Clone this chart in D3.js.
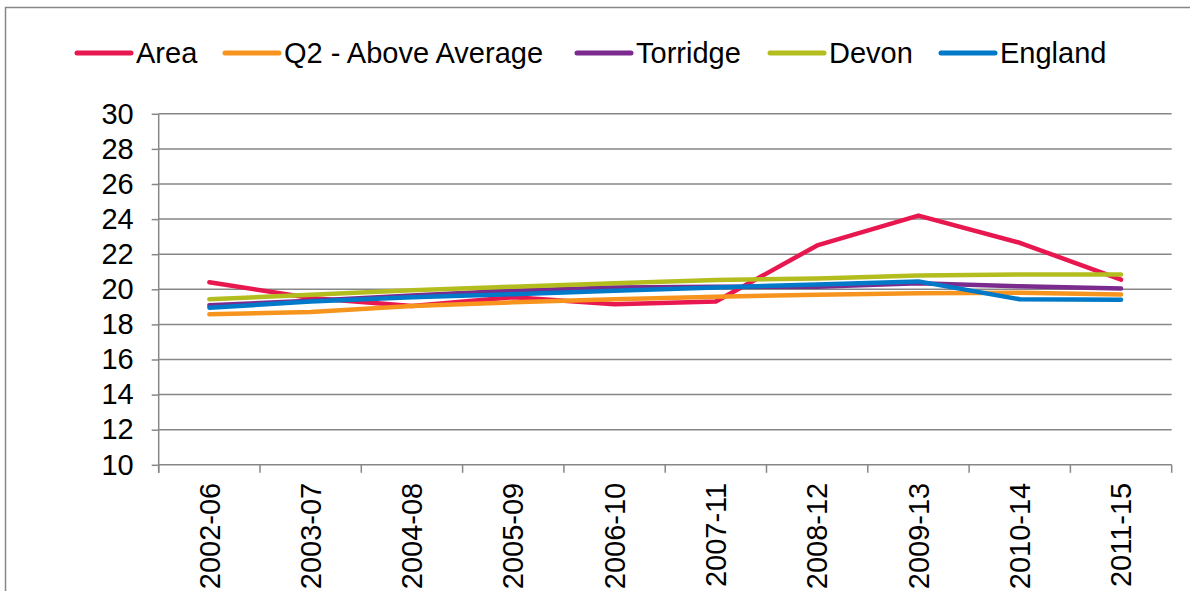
<!DOCTYPE html>
<html><head><meta charset="utf-8">
<script src="https://cdn.jsdelivr.net/npm/d3@7"></script>
<style>body{margin:0;background:#fff}svg{display:block}text{font-family:"Liberation Sans",Arial,sans-serif;fill:#000}</style>
</head><body><svg id="c" width="1190" height="591"></svg>
<script>
const categories = ["2002-06","2003-07","2004-08","2005-09","2006-10","2007-11","2008-12","2009-13","2010-14","2011-15"];
const seriesNames = ["Area","Q2 - Above Average","Torridge","Devon","England"];
const seriesColors = ["#E8174F","#F7941D","#7B2A8E","#B3BE1E","#0079C8"];
const area     = [20.4, 19.5, 19.05, 19.55, 19.15, 19.3, 22.5, 24.2, 22.65, 20.55];
const q2       = [18.58, 18.7, 19.05, 19.26, 19.43, 19.58, 19.69, 19.78, 19.8, 19.7];
const torridge = [19.09, 19.35, 19.65, 19.92, 20.1, 20.15, 20.15, 20.34, 20.17, 20.05];
const devon    = [19.43, 19.69, 19.94, 20.15, 20.34, 20.53, 20.62, 20.78, 20.85, 20.85];
const england  = [18.95, 19.3, 19.55, 19.72, 19.92, 20.1, 20.28, 20.45, 19.43, 19.4];
const yTicks   = [10,12,14,16,18,20,22,24,26,28,30];
const seriesValues = [area, q2, torridge, devon, england];

const svg = d3.select("#c");
const pLeft = 158.7, pRight = 1171.7, pTop = 113.8, pBottom = 464.8;
const grey = "#878787";

svg.append("rect").attr("x",5.5).attr("y",7.5).attr("width",1200).attr("height",620)
  .attr("fill","none").attr("stroke",grey).attr("stroke-width",1.5);

const x = d3.scaleBand().domain(categories).range([pLeft,pRight]).padding(0);
const y = d3.scaleLinear().domain([10,30]).range([pBottom,pTop]);

// gridlines
svg.append("g").selectAll("line").data(yTicks.filter(d=>d>10)).join("line")
  .attr("x1",pLeft).attr("x2",pRight).attr("y1",d=>y(d)).attr("y2",d=>y(d))
  .attr("stroke",grey).attr("stroke-width",1.5);

// y axis
const yAxis = svg.append("g").attr("transform",`translate(${pLeft},0)`)
  .call(d3.axisLeft(y).tickValues(yTicks).tickSize(7).tickPadding(18).tickFormat(d3.format("d")));
yAxis.select(".domain").attr("stroke",grey).attr("stroke-width",1.5).attr("d",`M0,${pTop}V${pBottom+8}`);
yAxis.selectAll(".tick line").attr("stroke",grey).attr("stroke-width",1.5);
yAxis.selectAll(".tick text").attr("font-size",29).style("font-family","Liberation Sans, Arial, sans-serif").attr("fill","#000");

// x axis
const xAxis = svg.append("g").attr("transform",`translate(0,${pBottom})`)
  .call(d3.axisBottom(x).tickSize(0).tickPadding(0));
xAxis.select(".domain").attr("stroke",grey).attr("stroke-width",1.5).attr("d",`M${pLeft},0H${pRight}`);
const bounds = categories.map(c=>x(c)).concat([pRight]);
xAxis.append("g").selectAll("line").data(bounds).join("line")
  .attr("x1",d=>d).attr("x2",d=>d).attr("y1",0).attr("y2",8)
  .attr("stroke",grey).attr("stroke-width",1.5);
xAxis.selectAll(".tick text")
  .attr("font-size",29).style("font-family","Liberation Sans, Arial, sans-serif").attr("fill","#000")
  .attr("text-anchor","end").attr("dy","0.35em")
  .attr("transform","translate(0,18) rotate(-90)").attr("x",0).attr("y",0);

// lines
const line = d3.line().x((d,i)=>x(categories[i])+x.bandwidth()/2).y(d=>y(d));
seriesValues.forEach((vals,k)=>{
  svg.append("path").datum(vals).attr("d",line).attr("fill","none")
    .attr("stroke",seriesColors[k]).attr("stroke-width",4.5)
    .attr("stroke-linejoin","round").attr("stroke-linecap","round");
});

// legend
const legendX = [77, 225, 577, 770, 941];
const lg = svg.append("g");
seriesNames.forEach((n,k)=>{
  const gx = legendX[k];
  lg.append("line").attr("x1",gx).attr("x2",gx+54).attr("y1",53).attr("y2",53)
    .attr("stroke",seriesColors[k]).attr("stroke-width",5).attr("stroke-linecap","round");
  lg.append("text").attr("x",gx+59).attr("y",53).attr("dy","0.35em").attr("font-size",29).text(n);
});
</script></body></html>
